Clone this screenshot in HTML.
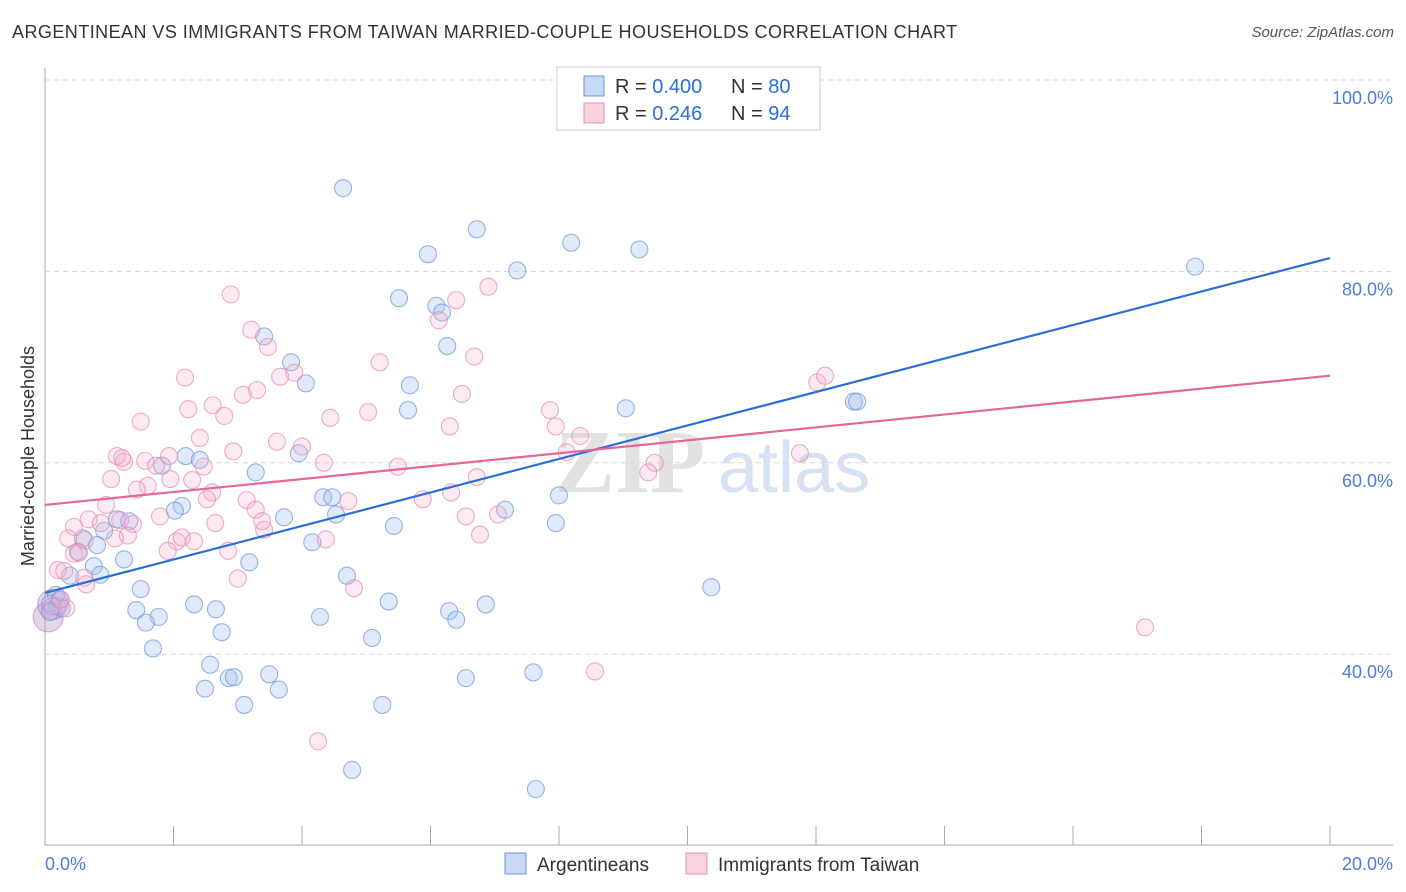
<!DOCTYPE html>
<html><head><meta charset="utf-8">
<style>
body{margin:0;background:#fff;font-family:"Liberation Sans",sans-serif;}
#wrap{position:relative;width:1406px;height:892px;overflow:hidden;}
.t{position:absolute;white-space:nowrap;}
</style></head>
<body>
<div id="wrap">
<div class="t" style="left:12px;top:22px;font-size:18px;letter-spacing:0.45px;color:#333;">ARGENTINEAN VS IMMIGRANTS FROM TAIWAN MARRIED-COUPLE HOUSEHOLDS CORRELATION CHART</div>
<div class="t" style="right:12px;top:24px;font-size:15px;color:#555;font-style:italic;">Source: ZipAtlas.com</div>
<svg id="chart" width="1406" height="892" style="position:absolute;left:0;top:0"></svg>
</div>
<script>
const xTicks=[0,2,4,6,8,10,12,14,16,18,20];
const yTicks=[40,60,80,100];
const yTickLabels=["40.0%","60.0%","80.0%","100.0%"];
const blueX=[4.64,6.72,8.19,9.25,5.96,7.35,17.9,5.51,6.09,6.18,6.26,3.41,3.83,4.06,5.68,12.59,12.64,5.65,9.04,3.95,1.82,2.19,2.41,3.28,2.13,2.02,4.33,4.47,4.53,7.16,8.0,7.95,3.72,5.43,1.12,1.31,0.92,0.59,0.81,0.51,4.16,3.18,1.23,0.76,0.39,0.86,1.49,4.7,10.37,0.17,0.08,0.19,0.26,1.42,2.32,2.66,1.77,1.57,4.28,5.35,6.29,6.4,6.86,2.75,5.09,1.68,2.57,3.49,2.49,2.86,2.94,3.64,3.1,5.25,6.55,7.6,4.78,7.64,0.08,0.23];
const blueY=[88.7,84.4,83.0,82.3,81.8,80.1,80.5,77.2,76.4,75.7,72.2,73.2,70.5,68.3,68.1,66.4,66.4,65.5,65.7,61.0,59.7,60.7,60.3,59.0,55.5,55.0,56.4,56.4,54.6,55.1,56.6,53.7,54.3,53.4,54.1,53.9,52.9,52.1,51.4,50.7,51.7,49.6,49.9,49.2,48.2,48.3,46.8,48.2,47.0,46.2,45.3,45.0,44.8,44.6,45.2,44.7,43.9,43.3,43.9,45.5,44.5,43.6,45.2,42.3,41.7,40.6,38.9,37.9,36.4,37.5,37.6,36.3,34.7,34.7,37.5,38.1,27.9,25.9,44.4,45.7];
const pinkX=[2.89,6.9,6.4,6.13,3.21,3.47,5.21,6.68,3.66,3.88,2.18,2.61,2.23,2.79,3.08,3.3,6.49,4.44,5.03,1.49,2.41,2.93,3.61,4.0,6.3,7.86,7.95,8.33,1.12,1.23,1.56,1.2,1.73,1.93,2.47,4.34,5.49,8.12,9.49,9.39,11.75,12.02,12.14,1.03,1.6,1.43,2.29,2.6,2.52,1.95,3.14,3.28,4.72,5.88,6.32,6.72,7.05,6.55,6.77,0.95,0.68,0.87,1.37,1.79,0.45,0.36,0.62,1.09,1.29,2.05,2.13,2.32,1.91,2.65,3.41,2.85,4.37,0.45,0.53,0.2,0.3,0.61,0.64,3.0,4.81,0.25,0.33,0.11,8.56,4.25,17.12,3.38,1.17];
const pinkY=[77.6,78.4,77.0,74.9,73.9,72.1,70.5,71.1,69.0,69.4,68.9,66.0,65.6,64.9,67.1,67.6,67.2,64.7,65.3,64.3,62.6,61.2,62.2,61.7,63.8,65.5,63.8,62.8,60.7,60.1,60.2,60.5,59.7,60.7,59.6,60.0,59.6,61.1,60.0,59.0,61.0,68.4,69.1,58.3,57.6,57.2,58.2,56.9,56.2,58.3,56.1,55.1,56.0,56.2,56.9,58.5,54.6,54.4,52.5,55.6,54.1,53.7,53.6,54.4,53.3,52.1,51.9,52.1,52.4,51.8,52.2,51.8,50.8,53.7,53.0,50.8,52.0,50.5,50.6,48.8,48.7,48.0,47.3,47.9,46.9,45.7,44.8,45.0,38.2,30.9,42.8,53.9,54.0];
const blueTrend=[46.4,81.4];
const pinkTrend=[55.6,69.1];
const bigX=[0.05,0.12];
const bigY=[43.9,45.2];

const NS="http://www.w3.org/2000/svg";
const svg=document.getElementById('chart');
const X0=45,X1=1330;
const sx=v=>X0+(X1-X0)*v/20;
const sy=v=>80+(100-v)*9.57;
function mk(tag,attrs,parent){const e=document.createElementNS(NS,tag);for(const k in attrs)e.setAttribute(k,attrs[k]);(parent||svg).appendChild(e);return e;}

let wm=mk('text',{x:555,y:492,'font-size':90,'font-family':'Liberation Serif, serif','font-weight':'bold',fill:'#e2e2e2'});
wm.textContent='ZIP';


let wm2=mk('text',{x:718,y:492,'font-size':72,'font-family':'Liberation Sans, sans-serif',fill:'#d6e2f4'});
wm2.textContent='atlas';



yTicks.forEach((t,i)=>{
 const g=mk('line',{x1:X0,x2:1393,y1:sy(t),y2:sy(t),stroke:'#d8d8d8','stroke-dasharray':'5,4'});
 
 
 const l=mk('text',{x:1393,y:sy(t)+24,'text-anchor':'end','font-size':18,fill:'#4a7fd4','font-family':'Liberation Sans, sans-serif'});
 l.textContent=yTickLabels[i];
 
 
});
let ax=mk('line',{x1:X0,x2:X0,y1:68,y2:845,stroke:'#aaa'});


let bx=mk('line',{x1:X0,x2:1393,y1:845,y2:845,stroke:'#aaa'});


xTicks.forEach(t=>{
 const k=mk('line',{x1:sx(t),x2:sx(t),y1:826,y2:845,stroke:'#aaa'});
 
 
});
let xl0=mk('text',{x:45,y:870,'font-size':18,fill:'#4a7fd4'});xl0.textContent='0.0%';


let xl1=mk('text',{x:1393,y:870,'font-size':18,fill:'#4a7fd4','text-anchor':'end'});xl1.textContent='20.0%';


let yt=mk('text',{x:34,y:456,'font-size':18,fill:'#333','text-anchor':'middle',transform:'rotate(-90 34 456)'});yt.textContent='Married-couple Households';



function pts(xs,ys,fill,stroke,name,r){
 xs.forEach((x,i)=>{
  const c=mk('circle',{cx:sx(x),cy:sy(ys[i]),r:r,fill:fill,stroke:stroke,'stroke-width':1.1});
  
  
 });
}
pts(bigX,bigY,'rgba(190,150,200,0.4)','rgba(170,130,190,0.6)','large-point',15);
pts(blueX,blueY,'rgba(165,195,240,0.35)','rgba(110,150,220,0.7)','argentinean-point',8.5);
pts(pinkX,pinkY,'rgba(245,175,205,0.28)','rgba(230,140,175,0.7)','taiwan-point',8.5);

let bl=mk('line',{x1:sx(0),y1:sy(blueTrend[0]),x2:sx(20),y2:sy(blueTrend[1]),stroke:'#2a6fd6','stroke-width':2.2});


let pl=mk('line',{x1:sx(0),y1:sy(pinkTrend[0]),x2:sx(20),y2:sy(pinkTrend[1]),stroke:'#e4679a','stroke-width':2.2});



let lb=mk('rect',{x:557,y:67,width:263,height:63,fill:'#fff',stroke:'#ccc'});


function legRow(y,fill,stroke,r,n,nm){
 const s=mk('rect',{x:584,y:y-10,width:20,height:20,fill:fill,stroke:stroke});
 
 
 const t=mk('text',{x:615,y:y+7,'font-size':20,fill:'#333'});
 t.innerHTML='R = <tspan fill="#2a6fd6">'+r+'</tspan><tspan x="731">N = </tspan><tspan fill="#2a6fd6">'+n+'</tspan>';
 
 
}
legRow(86,'rgba(160,192,240,0.6)','#6f95d8','0.400','80','argentinean');
legRow(113,'rgba(245,180,205,0.6)','#e890b0',' 0.246','94','taiwan');

function bLeg(x,fill,stroke,label,nm){
 const s=mk('rect',{x:x,y:853,width:21,height:21,fill:fill,stroke:stroke});
 
 
 const t=mk('text',{x:x+32,y:871,'font-size':19,fill:'#333'});
 t.textContent=label;
 
 
}
bLeg(505,'rgba(160,192,240,0.6)','#6f95d8','Argentineans','argentinean');
bLeg(686,'rgba(245,180,205,0.6)','#e890b0','Immigrants from Taiwan','taiwan');
</script>
</body></html>
